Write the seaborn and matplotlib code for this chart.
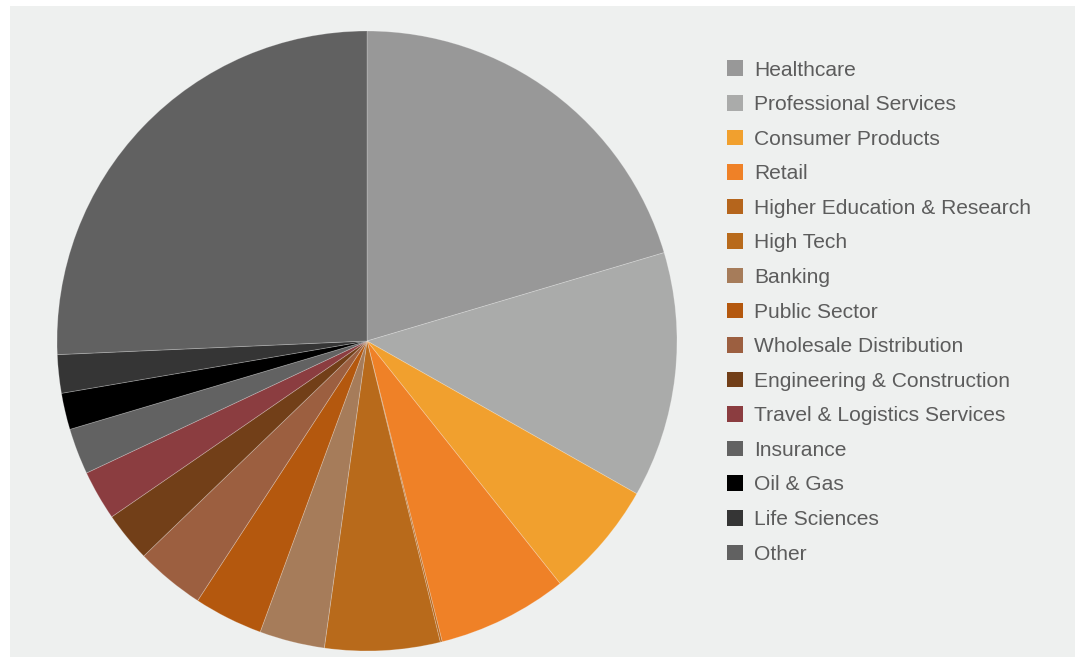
import matplotlib
matplotlib.use("Agg")
import matplotlib.pyplot as plt
from matplotlib.patches import Rectangle
import seaborn as sns

# Share of clients by industry (%)
industries = [
    "Healthcare", "Professional Services", "Consumer Products", "Retail",
    "Higher Education & Research", "High Tech", "Banking", "Public Sector",
    "Wholesale Distribution", "Engineering & Construction",
    "Travel & Logistics Services", "Insurance", "Oil & Gas",
    "Life Sciences", "Other",
]
shares = [20.4, 12.8, 6.1, 6.8, 0.1, 6.0, 3.4, 3.6, 3.6, 2.6, 2.6, 2.4, 1.9, 2.0, 25.7]
colors = [
    "#989898", "#aaabaa", "#f1a02e", "#ef8127", "#b5651c", "#b86a1b",
    "#a67c5a", "#b4580e", "#9c5f40", "#723f18", "#8b3d40", "#626262",
    "#000000", "#353535", "#616161",
]

sns.set_theme(style="white")
plt.rcParams["font.family"] = ["Liberation Sans", "DejaVu Sans"]
palette = sns.color_palette(colors)

W, H = 1078, 658
fig = plt.figure(figsize=(W / 100, H / 100), dpi=100, facecolor="white")

# light grey panel behind everything
fig.patches.append(Rectangle((10 / W, 1 - 657 / H), 1065 / W, 651 / H,
                             transform=fig.transFigure, facecolor="#eef0ef",
                             edgecolor="none", zorder=-5))

cx, cy, r = 367, 341, 310
ax = fig.add_axes([(cx - r) / W, 1 - (cy + r) / H, 2 * r / W, 2 * r / H])
ax.set_zorder(2)
ax.set_facecolor("none")
wedges, _ = ax.pie(shares, colors=palette, startangle=90, counterclock=False,
                   radius=1,
                   wedgeprops=dict(edgecolor=(1, 1, 1, 0.25), linewidth=0.6))
ax.set_xlim(-1, 1)
ax.set_ylim(-1, 1)
ax.set_aspect("equal")
ax.axis("off")

handles = [Rectangle((0, 0), 1, 1, facecolor=c, edgecolor="none") for c in palette]
leg = fig.legend(handles, industries, loc="upper left",
                 bbox_to_anchor=(727 / W, 1 - 60.5 / H),
                 frameon=False, fontsize=15.1, handlelength=0.76,
                 handleheight=0.76, handletextpad=0.52, labelspacing=0.74,
                 borderaxespad=0, borderpad=0)
for t in leg.get_texts():
    t.set_color("#5c5c5c")

fig.savefig("out.png", dpi=100, facecolor="white")
